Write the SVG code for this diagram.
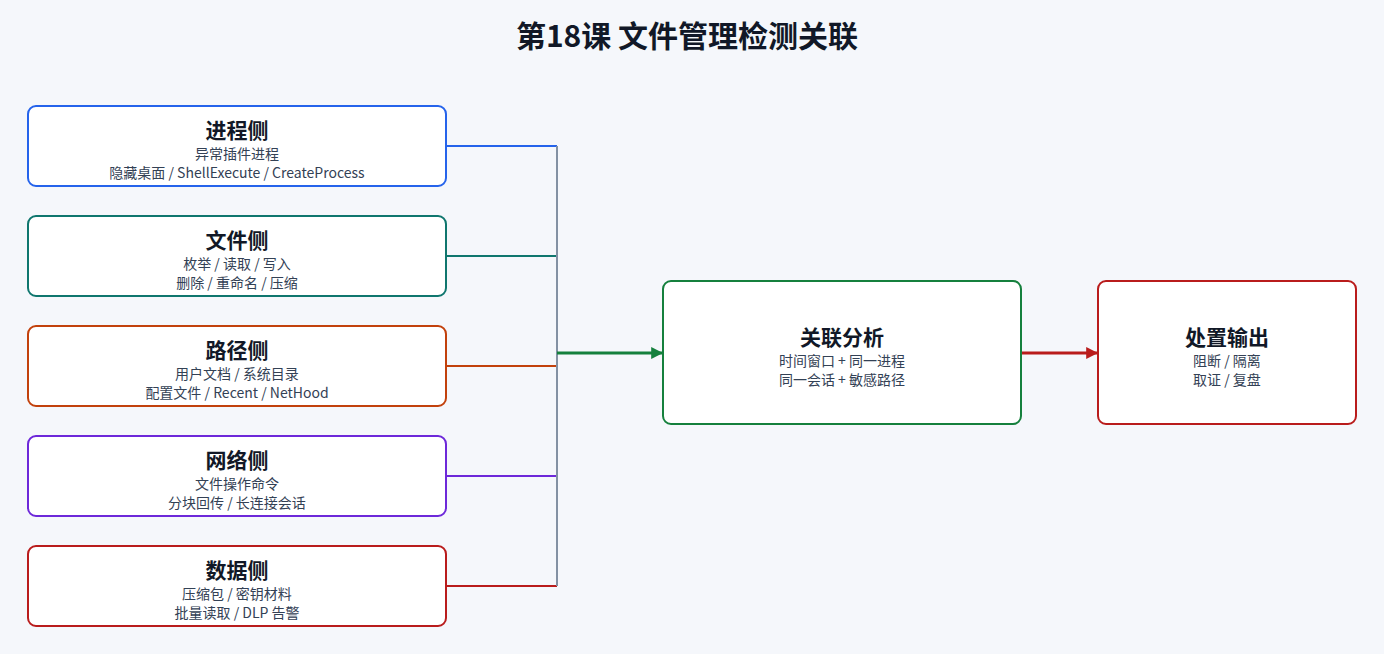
<svg xmlns="http://www.w3.org/2000/svg" width="1384" height="654" viewBox="0 0 1384 654">
<style>
text{font-family:"Noto Sans CJK SC","Noto Sans",sans-serif;fill:#1e293b;text-anchor:middle}
.t{font-size:30px;font-weight:bold;fill:#111827}
.h{font-size:21px;font-weight:bold;fill:#111827}
.s{font-size:14px;fill:#334155}
rect{fill:#fff;stroke-width:2}
.c{fill:none;stroke-width:2}
</style>
<defs>
<marker id="ag" viewBox="0 0 10 10" refX="9" refY="5" markerWidth="4" markerHeight="4" orient="auto"><path d="M0,0L10,5L0,10z" fill="#15803d"/></marker>
<marker id="ar" viewBox="0 0 10 10" refX="9" refY="5" markerWidth="4" markerHeight="4" orient="auto"><path d="M0,0L10,5L0,10z" fill="#b91c1c"/></marker>
</defs>
<rect x="0" y="0" width="1384" height="654" style="fill:#f5f7fb;stroke:none"/>
<text class="t" x="687" y="47">第18课 文件管理检测关联</text>
<g id="connectors">
<path class="c" stroke="#2563eb" d="M446,146H557"/>
<path class="c" stroke="#0f766e" d="M446,256H557"/>
<path class="c" stroke="#c2410c" d="M446,366H557"/>
<path class="c" stroke="#6d28d9" d="M446,476H557"/>
<path class="c" stroke="#b91c1c" d="M446,586H557"/>
<path class="c" stroke="#8391a3" d="M557,146V586"/>
<path class="c" stroke="#15803d" style="stroke-width:3" d="M557,353H662" marker-end="url(#ag)"/>
<path class="c" stroke="#b91c1c" style="stroke-width:3" d="M1021,353H1097" marker-end="url(#ar)"/>
</g>
<g id="n1"><rect x="28" y="106" width="418" height="80" rx="8" stroke="#2563eb"/><text class="h" x="237" y="138">进程侧</text><text class="s" x="237" y="159">异常插件进程</text><text class="s" x="237" y="178">隐藏桌面 / ShellExecute / CreateProcess</text></g>
<g id="n2"><rect x="28" y="216" width="418" height="80" rx="8" stroke="#0f766e"/><text class="h" x="237" y="248">文件侧</text><text class="s" x="237" y="269">枚举 / 读取 / 写入</text><text class="s" x="237" y="288">删除 / 重命名 / 压缩</text></g>
<g id="n3"><rect x="28" y="326" width="418" height="80" rx="8" stroke="#c2410c"/><text class="h" x="237" y="358">路径侧</text><text class="s" x="237" y="379">用户文档 / 系统目录</text><text class="s" x="237" y="398">配置文件 / Recent / NetHood</text></g>
<g id="n4"><rect x="28" y="436" width="418" height="80" rx="8" stroke="#6d28d9"/><text class="h" x="237" y="468">网络侧</text><text class="s" x="237" y="489">文件操作命令</text><text class="s" x="237" y="508">分块回传 / 长连接会话</text></g>
<g id="n5"><rect x="28" y="546" width="418" height="80" rx="8" stroke="#b91c1c"/><text class="h" x="237" y="578">数据侧</text><text class="s" x="237" y="599">压缩包 / 密钥材料</text><text class="s" x="237" y="618">批量读取 / DLP 告警</text></g>
<g id="n6"><rect x="663" y="281" width="358" height="143" rx="8" stroke="#15803d"/><text class="h" x="842" y="345">关联分析</text><text class="s" x="842" y="366">时间窗口 + 同一进程</text><text class="s" x="842" y="385">同一会话 + 敏感路径</text></g>
<g id="n7"><rect x="1098" y="281" width="258" height="143" rx="8" stroke="#b91c1c"/><text class="h" x="1227" y="345">处置输出</text><text class="s" x="1227" y="366">阻断 / 隔离</text><text class="s" x="1227" y="385">取证 / 复盘</text></g>
</svg>
